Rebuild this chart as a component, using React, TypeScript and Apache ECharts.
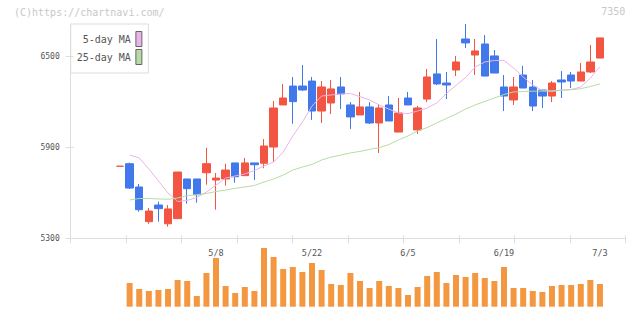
import React, { useEffect, useRef } from 'react';
import * as echarts from 'echarts';

// Trading days shown on the chart (first entry is the carried-over session)
const dates = [
  '4/21', '4/22', '4/23', '4/24', '4/25', '4/28', '4/30', '5/1', '5/2', '5/7',
  '5/8', '5/9', '5/12', '5/13', '5/14', '5/15', '5/16', '5/19', '5/20', '5/21',
  '5/22', '5/23', '5/26', '5/27', '5/28', '5/29', '5/30', '6/2', '6/3', '6/4',
  '6/5', '6/6', '6/9', '6/10', '6/11', '6/12', '6/13', '6/16', '6/17', '6/18',
  '6/19', '6/20', '6/23', '6/24', '6/25', '6/26', '6/27', '6/30', '7/1', '7/2',
  '7/3',
];

const dateLabels = ['5/8', '5/22', '6/5', '6/19', '7/3'];
const priceTicks = [5300, 5900, 6500];

const open = [
  5776, 5793, 5639, 5410, 5520, 5396, 5430, 5692, 5692, 5733,
  5685, 5692, 5798, 5714, 5798, 5796, 5903, 6181, 6306, 6306,
  6339, 6141, 6194, 6300, 6181, 6115, 6168, 6062, 6181, 6002,
  6227, 6016, 6220, 6386, 6326, 6412, 6617, 6511, 6584, 6505,
  6300, 6214, 6379, 6300, 6280, 6240, 6346, 6379, 6339, 6399,
  6491,
];
const close = [
  5776, 5632, 5489, 5480, 5496, 5494, 5738, 5628, 5588, 5793,
  5698, 5751, 5707, 5798, 5786, 5910, 6161, 6227, 6203, 6280,
  6141, 6300, 6287, 6254, 6102, 6168, 6062, 6161, 6075, 6128,
  6181, 6161, 6366, 6320, 6313, 6465, 6591, 6538, 6372, 6392,
  6240, 6300, 6293, 6174, 6240, 6326, 6333, 6339, 6399, 6465,
  6624,
];
const low = [
  5776, 5626, 5476, 5396, 5410, 5377, 5430, 5529, 5535, 5654,
  5489, 5648, 5667, 5714, 5685, 5763, 5804, 6181, 6057, 6273,
  6082, 6062, 6121, 6154, 6022, 6115, 6055, 5864, 6075, 6002,
  6181, 5989, 6200, 6313, 6220, 6372, 6558, 6379, 6372, 6392,
  6141, 6181, 6293, 6141, 6161, 6200, 6227, 6293, 6339, 6392,
  6491,
];
const high = [
  5776, 5800, 5659, 5500, 5542, 5520, 5738, 5692, 5692, 5899,
  5731, 5793, 5798, 5831, 5798, 5956, 6207, 6319, 6366, 6445,
  6366, 6339, 6346, 6366, 6200, 6267, 6200, 6187, 6240, 6227,
  6267, 6174, 6419, 6617, 6399, 6505, 6716, 6617, 6643, 6544,
  6379, 6366, 6439, 6346, 6280, 6339, 6405, 6399, 6458, 6577,
  6624,
];

const volume = [
  null, 23700, 17700, 15700, 16700, 17700, 26700, 25700, 10700, 33700,
  48700, 20700, 13700, 19700, 15700, 58700, 49700, 37700, 39700, 34700,
  43700, 36700, 22700, 21700, 33700, 25700, 18700, 25700, 20700, 18700,
  11700, 19700, 30700, 34700, 23700, 31700, 29700, 33700, 28700, 25700,
  39700, 18700, 18700, 15700, 14700, 20700, 21700, 21700, 22700, 26700,
  22700,
];

const ma5 = [
  null, 5850, 5831, 5758, 5679, 5599, 5543, 5550, 5570, 5606,
  5652, 5698, 5712, 5725, 5748, 5778, 5804, 5870, 5976, 6068,
  6174, 6240, 6247, 6253, 6257, 6236, 6214, 6181, 6154, 6128,
  6124, 6141, 6161, 6194, 6257, 6310, 6362, 6432, 6465, 6475,
  6475, 6425, 6366, 6313, 6276, 6270, 6280, 6283, 6300, 6359,
  6435,
];

const ma25 = [
  null, 5553, 5563, 5563, 5560, 5558, 5566, 5583, 5588, 5596,
  5609, 5619, 5630, 5639, 5649, 5672, 5692, 5718, 5751, 5771,
  5788, 5817, 5837, 5850, 5864, 5874, 5888, 5899, 5919, 5950,
  5976, 6009, 6032, 6062, 6092, 6121, 6154, 6181, 6204, 6227,
  6250, 6267, 6270, 6272, 6273, 6275, 6278, 6282, 6289, 6303,
  6320,
];

const UP = '#f25541';
const DOWN = '#4178eb';
const VOL = '#f39841';
const MA5_COLOR = '#e9b4e9';
const MA25_COLOR = '#b4dca4';
const AXIS = '#dddddd';
const LABEL = '#555555';
const MONO = 'DejaVu Sans Mono';

const W = 640;
const H = 311;
const PLOT_LEFT = 70.7;
const PLOT_RIGHT = 625.3;
const PRICE_TOP = 24;
const PRICE_BOTTOM = 238.3;
const X_MIN = -5.14;
const X_MAX = 52.64;

export default function App() {
  const ref = useRef<HTMLDivElement>(null);

  useEffect(() => {
    if (!ref.current) return;
    const chart = echarts.init(ref.current, undefined, { renderer: 'svg' });

    const pxPerDay = (PLOT_RIGHT - PLOT_LEFT) / (X_MAX - X_MIN);
    const lastDay = dates.length - 1;
    const labelLeft = PLOT_LEFT + (0 - X_MIN) * pxPerDay;
    const labelRight = W - (PLOT_LEFT + (lastDay - X_MIN) * pxPerDay);

    const candles = dates.map((_, j) => [j, open[j], close[j], low[j], high[j]]);
    const pts = (arr: (number | null)[]) =>
      arr.map((v, j) => [j, v]).filter((p) => p[1] != null);

    const baseGrid = { containLabel: false, outerBoundsMode: 'none' };
    const hiddenAxis = { show: false, axisLine: { show: false }, axisTick: { show: false }, axisLabel: { show: false }, splitLine: { show: false } };

    const option: any = {
      animation: false,
      backgroundColor: '#ffffff',
      graphic: [
        {
          type: 'text',
          left: 14,
          top: 7,
          style: { text: '(C)https://chartnavi.com/', fontFamily: MONO, fontSize: 10, fill: '#c8c8c8' },
        },
        {
          type: 'text',
          right: W - PLOT_RIGHT,
          top: 6,
          style: { text: '7350', fontFamily: MONO, fontSize: 10, fill: '#c8c8c8' },
        },
      ],
      legend: {
        data: ['5-day MA', '25-day MA'],
        orient: 'vertical',
        left: PLOT_LEFT,
        top: PRICE_TOP,
        align: 'right',
        icon: 'rect',
        itemWidth: 6,
        itemHeight: 15,
        itemGap: 2,
        padding: [7, 6, 8, 6],
        borderColor: AXIS,
        borderWidth: 1,
        selectedMode: false,
        textStyle: { fontFamily: MONO, fontSize: 10, color: LABEL },
        itemStyle: { borderColor: '#666666', borderWidth: 1 },
      },
      grid: [
        { ...baseGrid, left: PLOT_LEFT, right: W - PLOT_RIGHT, top: PRICE_TOP, bottom: H - PRICE_BOTTOM },
        { ...baseGrid, left: PLOT_LEFT, right: W - PLOT_RIGHT, top: 56.7, bottom: H - PRICE_BOTTOM },
        { ...baseGrid, left: labelLeft, right: labelRight, top: PRICE_TOP, bottom: H - PRICE_BOTTOM },
        { ...baseGrid, left: PLOT_LEFT, right: W - PLOT_RIGHT, top: 248, bottom: 4.3 },
      ],
      xAxis: [
        { type: 'value', gridIndex: 0, position: 'bottom', min: X_MIN, max: X_MAX, ...hiddenAxis },
        {
          type: 'value', gridIndex: 0, position: 'bottom', min: 0, max: 10, interval: 1,
          axisLine: { show: true, onZero: false, lineStyle: { color: AXIS, width: 1 } },
          axisTick: { show: true, inside: false, length: 5, lineStyle: { color: AXIS, width: 1 } },
          axisLabel: { show: false }, splitLine: { show: false },
        },
        {
          type: 'value', gridIndex: 0, position: 'bottom', min: 0, max: 10, interval: 1,
          axisLine: { show: false, onZero: false },
          axisTick: { show: true, inside: true, length: 3, lineStyle: { color: AXIS, width: 1 } },
          axisLabel: { show: false }, splitLine: { show: false },
        },
        { type: 'value', gridIndex: 1, position: 'bottom', min: 0, max: 1, ...hiddenAxis },
        {
          type: 'value', gridIndex: 2, position: 'bottom', min: 0, max: lastDay, interval: 10,
          axisLine: { show: false, onZero: false },
          axisTick: { show: false },
          splitLine: { show: false },
          axisLabel: {
            show: true, margin: 10, fontFamily: MONO, fontSize: 8.5, color: LABEL,
            formatter: (v: number) => {
              const d = dates[Math.round(v)];
              return d && dateLabels.includes(d) ? d : '';
            },
          },
        },
        { type: 'value', gridIndex: 3, position: 'bottom', min: X_MIN, max: X_MAX, ...hiddenAxis },
      ],
      yAxis: [
        {
          type: 'value', gridIndex: 0, position: 'left', min: priceTicks[0], max: Math.max(...high),
          axisLine: { show: true, onZero: false, lineStyle: { color: AXIS, width: 1 } },
          axisTick: { show: false }, axisLabel: { show: false }, splitLine: { show: false },
        },
        {
          type: 'value', gridIndex: 1, position: 'left',
          min: priceTicks[0], max: priceTicks[priceTicks.length - 1], interval: priceTicks[1] - priceTicks[0],
          axisLine: { show: false, onZero: false },
          axisTick: { show: true, inside: false, length: 5, lineStyle: { color: AXIS, width: 1 } },
          axisLabel: {
            show: true, margin: 11, fontFamily: MONO, fontSize: 8, color: LABEL,
            formatter: (v: number) => String(v),
          },
          splitLine: { show: false },
        },
        {
          type: 'value', gridIndex: 1, position: 'left',
          min: priceTicks[0], max: priceTicks[priceTicks.length - 1], interval: priceTicks[1] - priceTicks[0],
          axisLine: { show: false, onZero: false },
          axisTick: { show: true, inside: true, length: 3, lineStyle: { color: AXIS, width: 1 } },
          axisLabel: { show: false }, splitLine: { show: false },
        },
        { type: 'value', gridIndex: 2, position: 'left', min: 0, max: 1, ...hiddenAxis },
        { type: 'value', gridIndex: 3, position: 'left', min: 0, max: 'dataMax', ...hiddenAxis },
      ],
      series: [
        {
          name: '5-day MA', type: 'line', xAxisIndex: 0, yAxisIndex: 0,
          data: pts(ma5), symbol: 'none', showSymbol: false, silent: true,
          color: MA5_COLOR, lineStyle: { color: MA5_COLOR, width: 1 },
        },
        {
          name: '25-day MA', type: 'line', xAxisIndex: 0, yAxisIndex: 0,
          data: pts(ma25), symbol: 'none', showSymbol: false, silent: true,
          color: MA25_COLOR, lineStyle: { color: MA25_COLOR, width: 1 },
        },
        {
          name: 'price', type: 'candlestick', xAxisIndex: 0, yAxisIndex: 0,
          data: candles, barWidth: 8, silent: true,
          itemStyle: {
            color: UP, color0: DOWN, borderColor: UP, borderColor0: DOWN,
            borderColorDoji: UP, borderWidth: 1,
          },
        },
        {
          name: 'volume', type: 'bar', xAxisIndex: 5, yAxisIndex: 4,
          data: pts(volume), barWidth: 6, silent: true,
          itemStyle: { color: VOL },
        },
      ],
    };

    chart.setOption(option);
    return () => chart.dispose();
  }, []);

  return (
    <div
      ref={ref}
      style={{ position: 'absolute', left: 0, top: 0, width: W, height: H }}
    />
  );
}
